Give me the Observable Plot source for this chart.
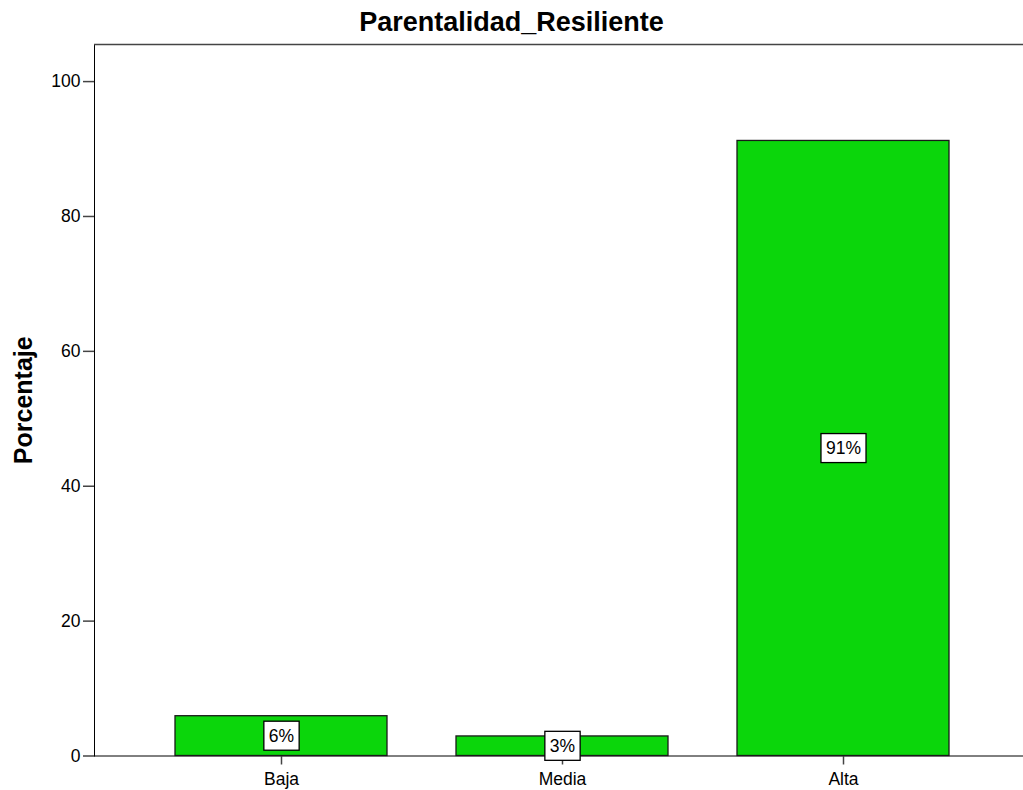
<!DOCTYPE html>
<html>
<head>
<meta charset="utf-8">
<script src="https://cdn.jsdelivr.net/npm/d3@7"></script>
<script src="https://cdn.jsdelivr.net/npm/@observablehq/plot@0.6"></script>
<style>
  body { margin: 0; background: #fff; font-family: "Liberation Sans", Arial, sans-serif; }
  #title { height: 40px; line-height: 45px; text-align: center; font-weight: bold; font-size: 27px; color: #000; width: 1023px; }
  #chart svg { display: block; }
</style>
</head>
<body>
<div id="title">Parentalidad_Resiliente</div>
<div id="chart"></div>
<script>
const categories = ["Baja", "Media", "Alta"];
const percentages = [5.9, 2.9, 91.2];
const barLabels = ["6%", "3%", "91%"];
const yTicks = [0, 20, 40, 60, 80, 100];
const yLabel = "Porcentaje";
const yMax = 105.5;

const data = categories.map((c, i) => ({category: c, value: percentages[i], label: barLabels[i]}));

const axisColor = "#444";

const chart = Plot.plot({
  width: 1023,
  height: 750,
  marginTop: 4,
  marginBottom: 34.5,
  marginLeft: 94,
  marginRight: 0,
  style: { fontFamily: "Liberation Sans, Arial, sans-serif", fontSize: "17.5px", color: "#000", background: "#fff" },
  x: {
    domain: categories,
    paddingInner: 0.245,
    paddingOuter: 0.2755,
    align: 0.52,
    tickSize: 9,
    tickPadding: 8,
    label: null,
    line: true
  },
  y: {
    domain: [0, yMax],
    ticks: yTicks,
    tickSize: 11,
    tickPadding: 3,
    label: null,
    line: true
  },
  marks: [
    Plot.barY(data, { x: "category", y: "value", fill: "#0bd60b", stroke: "#1a1a1a", strokeWidth: 1.3 }),
    Plot.ruleY([yMax], { stroke: axisColor, strokeWidth: 1.5 }),
    Plot.text([yLabel], { frameAnchor: "left", textAnchor: "middle", rotate: -90, dx: -70.5, text: d => d, fontSize: 25, fontWeight: "bold", fill: "#000" }),
    Plot.text(data, { x: "category", y: d => d.value / 2, text: "label", fill: "#000", fontSize: 17.5, className: "pct-label" })
  ]
});

d3.select(chart).selectAll('[aria-label="x-axis tick"], [aria-label="y-axis tick"]').attr("stroke", axisColor).attr("stroke-width", 1.5);
d3.select(chart).selectAll('[aria-label="x-axis line"] , [aria-label="y-axis line"]').attr("stroke", axisColor).attr("stroke-width", 1.5);
d3.select(chart).selectAll('[aria-label="x-axis tick label"], [aria-label="y-axis tick label"]').attr("fill", "#000");

document.getElementById("chart").appendChild(chart);

// white boxes behind the percentage labels
let labelNodes = Array.from(chart.querySelectorAll(".pct-label text, text.pct-label"));
if (labelNodes.length === 0) {
  // fallback: the text group containing the bar labels
  const groups = Array.from(chart.querySelectorAll('g[aria-label="text"]'));
  const g = groups.find(gr => gr.querySelectorAll("text").length === barLabels.length);
  if (g) labelNodes = Array.from(g.querySelectorAll("text"));
}
labelNodes.forEach(node => {
  const bb = node.getBBox();
  const t = node.getAttribute("transform");
  const rect = document.createElementNS("http://www.w3.org/2000/svg", "rect");
  rect.setAttribute("x", bb.x - 5);
  rect.setAttribute("y", bb.y - 4.5);
  rect.setAttribute("width", bb.width + 10);
  rect.setAttribute("height", bb.height + 9);
  rect.setAttribute("fill", "#fff");
  rect.setAttribute("stroke", "#000");
  rect.setAttribute("stroke-width", 1.3);
  if (t) rect.setAttribute("transform", t);
  node.parentNode.insertBefore(rect, node);
});
</script>
</body>
</html>
